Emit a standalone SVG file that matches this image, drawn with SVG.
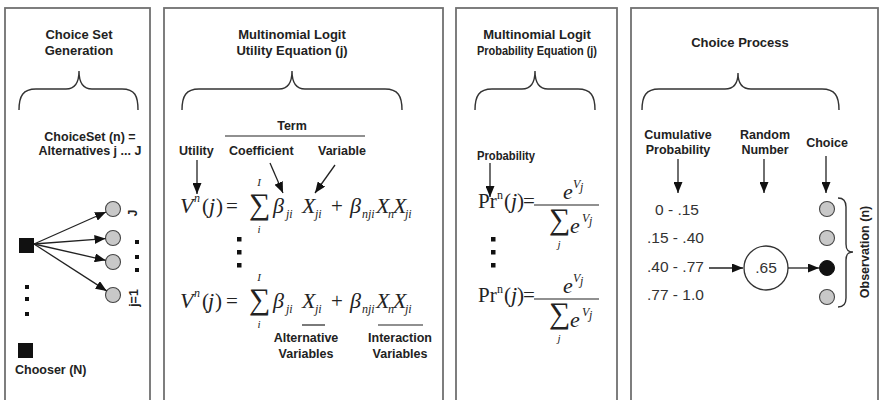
<svg xmlns="http://www.w3.org/2000/svg" width="881" height="400" viewBox="0 0 881 400">
<defs>
<style>
.panel{fill:#fff;stroke:#707070;stroke-width:1.8}
.brace{fill:none;stroke:#333;stroke-width:1.4}
.t{font-family:"Liberation Sans",Arial,sans-serif;font-weight:bold;font-size:12.5px;fill:#222}
.tt{font-family:"Liberation Sans",Arial,sans-serif;font-weight:bold;font-size:13px;fill:#222;text-anchor:middle}
.c{text-anchor:middle}
.num{font-family:"Liberation Sans",Arial,sans-serif;font-size:15.5px;fill:#333}
.mi{font-family:"Liberation Serif","Times New Roman",serif;font-style:italic;font-size:22px;fill:#222}
.m{font-family:"Liberation Serif","Times New Roman",serif;font-size:21px;fill:#222}
.sub{font-family:"Liberation Serif","Times New Roman",serif;font-style:italic;font-size:12px;fill:#222}
.sum{font-family:"Liberation Serif","DejaVu Serif",serif;font-size:30px;fill:#222}
.lim{font-family:"Liberation Serif","Times New Roman",serif;font-style:italic;font-size:11px;fill:#222;text-anchor:middle}
.arr{stroke:#222;stroke-width:1.3;fill:none;marker-end:url(#ah)}
.alt{fill:#c8c8c8;stroke:#444;stroke-width:1.1}
.dot{fill:#111}
.ul{stroke:#222;stroke-width:1.2}
</style>
<marker id="ah" markerUnits="userSpaceOnUse" markerWidth="12" markerHeight="9" refX="11" refY="4.5" orient="auto">
<path d="M0,0 L11,4.5 L0,9 z" fill="#111"/>
</marker>
</defs>
<rect width="881" height="400" fill="#fff"/>

<g id="panel1">
<rect class="panel" x="5" y="8" width="145" height="410"/>
<text class="tt" x="79" y="39">Choice Set</text>
<text class="tt" x="79" y="55">Generation</text>
<path class="brace" d="M19,110 C19,96 23,89 36,89 L66,89 C74,89 79,84 79,71 C79,84 84,89 92,89 L122,89 C135,89 138,96 138,110"/>
<text class="t c" x="90" y="141">ChoiceSet (n) =</text>
<text class="t c" x="90" y="155">Alternatives j ... J</text>
</g>

<g id="chooser1">
<rect x="19" y="238" width="15" height="15" fill="#111"/>
</g>
<g id="chooser-dots">
<rect class="dot" x="25" y="285" width="4" height="4"/>
<rect class="dot" x="25" y="297" width="4" height="4"/>
<rect class="dot" x="25" y="312" width="4" height="4"/>
</g>
<g id="chooserN">
<rect x="18" y="343" width="15" height="15" fill="#111"/>
<text class="t" x="15" y="374">Chooser (N)</text>
</g>
<g id="alt-J"><circle class="alt" cx="113" cy="209" r="7.5"/><text class="t c" transform="translate(137,213) rotate(-90)" x="0" y="0">J</text></g>
<g id="alt-2"><circle class="alt" cx="113" cy="238" r="7.5"/></g>
<g id="alt-3"><circle class="alt" cx="113" cy="262" r="7.5"/></g>
<g id="alt-1"><circle class="alt" cx="113" cy="295" r="7.5"/><text class="t c" transform="translate(138,298) rotate(-90)" x="0" y="0">j=1</text></g>
<g id="alt-dots">
<rect class="dot" x="135" y="240" width="4" height="4"/>
<rect class="dot" x="135" y="255" width="4" height="4"/>
<rect class="dot" x="135" y="268" width="4" height="4"/>
</g>

<g id="panel2">
<rect class="panel" x="164" y="8" width="279" height="410"/>
<text class="tt" x="292" y="39">Multinomial Logit</text>
<text class="tt" x="292" y="55">Utility Equation (j)</text>
<path class="brace" d="M182,110 C182,96 186,89 199,89 L279,89 C287,89 292,84 292,71 C292,84 297,89 305,89 L385,89 C398,89 402,96 402,110"/>
<text class="t c" x="292" y="130">Term</text>
<line class="ul" x1="225" y1="136" x2="365" y2="136"/>
<text class="t" x="179" y="155">Utility</text>
<text class="t" x="229" y="155">Coefficient</text>
<text class="t" x="318" y="155">Variable</text>
</g>

<g id="utility-eq1">
<text class="mi" x="180" y="213">V</text>
<text class="sub" x="194" y="202">n</text>
<text class="m" x="202" y="213">(</text>
<text class="mi" x="209" y="213">j</text>
<text class="m" x="216" y="213">)</text>
<text class="m" x="226" y="213">=</text>
<text class="sum" x="249" y="214">∑</text>
<text class="lim" x="259" y="186">I</text>
<text class="lim" x="259" y="233">i</text>
<text class="mi" x="273" y="213">β</text>
<text class="sub" x="286" y="218">ji</text>
<text class="mi" x="302" y="213">X</text>
<text class="sub" x="315" y="218">ji</text>
<text class="m" x="331" y="213">+</text>
<text class="mi" x="350" y="213">β</text>
<text class="sub" x="362" y="218">nji</text>
<text class="mi" x="376" y="213">X</text>
<text class="sub" x="388" y="218">n</text>
<text class="mi" x="393" y="213">X</text>
<text class="sub" x="405" y="218">ji</text>
</g>
<g id="utility-dots">
<rect class="dot" x="237" y="237" width="4.5" height="4.5"/>
<rect class="dot" x="237" y="250" width="4.5" height="4.5"/>
<rect class="dot" x="237" y="263" width="4.5" height="4.5"/>
</g>
<g id="utility-eqJ" transform="translate(0,95)">
<text class="mi" x="180" y="213">V</text>
<text class="sub" x="194" y="202">n</text>
<text class="m" x="202" y="213">(</text>
<text class="mi" x="208" y="213">j</text>
<text class="m" x="215" y="213">)</text>
<text class="m" x="226" y="213">=</text>
<text class="sum" x="249" y="214">∑</text>
<text class="lim" x="259" y="186">I</text>
<text class="lim" x="259" y="233">i</text>
<text class="mi" x="273" y="213">β</text>
<text class="sub" x="286" y="218">ji</text>
<text class="mi" x="302" y="213">X</text>
<text class="sub" x="315" y="218">ji</text>
<text class="m" x="331" y="213">+</text>
<text class="mi" x="350" y="213">β</text>
<text class="sub" x="362" y="218">nji</text>
<text class="mi" x="376" y="213">X</text>
<text class="sub" x="388" y="218">n</text>
<text class="mi" x="393" y="213">X</text>
<text class="sub" x="405" y="218">ji</text>
</g>
<g id="alt-vars">
<line class="ul" x1="302" y1="325" x2="325" y2="325"/>
<text class="t c" x="306" y="342">Alternative</text>
<text class="t c" x="306" y="358">Variables</text>
</g>
<g id="int-vars">
<line class="ul" x1="378" y1="325" x2="423" y2="325"/>
<text class="t c" x="400" y="342">Interaction</text>
<text class="t c" x="400" y="358">Variables</text>
</g>

<g id="panel3">
<rect class="panel" x="456" y="8" width="161" height="410"/>
<text class="tt" x="537" y="39">Multinomial Logit</text>
<text class="tt" x="537" y="55" textLength="120" lengthAdjust="spacingAndGlyphs">Probability Equation (j)</text>
<path class="brace" d="M475,110 C475,96 479,89 492,89 L522,89 C530,89 535,84 535,71 C535,84 540,89 548,89 L578,89 C591,89 595,96 595,110"/>
<text class="t" x="477" y="160" textLength="58" lengthAdjust="spacingAndGlyphs">Probability</text>
</g>

<g id="prob-eq1">
<text class="m" x="478" y="208" font-size="20">Pr</text>
<text class="sub" x="497" y="199" style="font-style:normal">n</text>
<text class="m" x="504" y="208" font-size="20">(</text>
<text class="mi" x="511" y="208" font-size="20">j</text>
<text class="m" x="517" y="208" font-size="20">)</text>
<text class="m" x="523" y="208" font-size="20">=</text>
<line class="ul" x1="534" y1="205" x2="599" y2="205" stroke-width="1.1"/>
<text class="mi" x="563" y="199" font-size="20">e</text>
<text class="sub" x="573" y="188" font-size="11">V</text>
<text class="sub" x="580" y="191" font-size="8">j</text>
<text class="sum" x="549" y="229" font-size="24">∑</text>
<text class="lim" x="559" y="248" font-size="10">j</text>
<text class="mi" x="570" y="233" font-size="20">e</text>
<text class="sub" x="582" y="222" font-size="11">V</text>
<text class="sub" x="589" y="225" font-size="8">j</text>
</g>
<g id="prob-dots">
<rect class="dot" x="491" y="237" width="4.5" height="4.5"/>
<rect class="dot" x="491" y="250" width="4.5" height="4.5"/>
<rect class="dot" x="491" y="263" width="4.5" height="4.5"/>
</g>
<g id="prob-eqJ" transform="translate(0,94)">
<text class="m" x="478" y="208" font-size="20">Pr</text>
<text class="sub" x="497" y="199" style="font-style:normal">n</text>
<text class="m" x="504" y="208" font-size="20">(</text>
<text class="mi" x="511" y="208" font-size="20">j</text>
<text class="m" x="517" y="208" font-size="20">)</text>
<text class="m" x="523" y="208" font-size="20">=</text>
<line class="ul" x1="534" y1="205" x2="599" y2="205" stroke-width="1.1"/>
<text class="mi" x="563" y="199" font-size="20">e</text>
<text class="sub" x="573" y="188" font-size="11">V</text>
<text class="sub" x="580" y="191" font-size="8">j</text>
<text class="sum" x="549" y="229" font-size="24">∑</text>
<text class="lim" x="559" y="248" font-size="10">j</text>
<text class="mi" x="570" y="233" font-size="20">e</text>
<text class="sub" x="582" y="222" font-size="11">V</text>
<text class="sub" x="589" y="225" font-size="8">j</text>
</g>

<g id="panel4">
<rect class="panel" x="631" y="8" width="247" height="410"/>
<text class="tt" x="740" y="47">Choice Process</text>
<path class="brace" d="M642,110 C642,96 646,89 659,89 L725,89 C733,89 738,84 738,73 C738,84 743,89 751,89 L822,89 C835,89 839,96 839,110"/>
<text class="t c" x="678" y="139">Cumulative</text>
<text class="t c" x="678" y="154">Probability</text>
<text class="t c" x="765" y="139">Random</text>
<text class="t c" x="765" y="154">Number</text>
<text class="t c" x="827" y="147">Choice</text>
</g>
<g id="ranges">
<text class="num" x="655" y="215">0 - .15</text>
<text class="num" x="647" y="243">.15 - .40</text>
<text class="num" x="647" y="272">.40 - .77</text>
<text class="num" x="647" y="300">.77 - 1.0</text>
</g>
<g id="random">
<circle cx="766" cy="268" r="22" fill="#fff" stroke="#333" stroke-width="1.3"/>
<text class="num c" x="766" y="273" font-size="15">.65</text>
</g>
<g id="choices">
<circle class="alt" cx="827" cy="209" r="7.5"/>
<circle class="alt" cx="827" cy="238" r="7.5"/>
<circle cx="827" cy="268" r="7.5" fill="#111" stroke="#111"/>
<circle class="alt" cx="827" cy="297" r="7.5"/>
</g>
<g id="observation">
<path class="brace" d="M838,198 C844,198 846,201 846,207 L846,244 C846,250 848,252 853,252 C848,252 846,254 846,260 L846,298 C846,304 844,307 838,307"/>
<text class="t c" transform="translate(869,252) rotate(-90)" x="0" y="0">Observation (n)</text>
</g>

<g id="connectors">
<line class="arr" x1="34" y1="244" x2="106" y2="212"/>
<line class="arr" x1="34" y1="244" x2="105.5" y2="238.6"/>
<line class="arr" x1="34" y1="244" x2="105.7" y2="260.3"/>
<line class="arr" x1="34" y1="244" x2="106.7" y2="290.9"/>
<line class="arr" x1="197" y1="160" x2="197" y2="194"/>
<line class="arr" x1="270" y1="163" x2="283" y2="193"/>
<line class="arr" x1="335" y1="165" x2="315" y2="193"/>
<line class="arr" x1="490" y1="163" x2="490" y2="197"/>
<line class="arr" x1="678" y1="159" x2="678" y2="193"/>
<line class="arr" x1="764" y1="159" x2="764" y2="193"/>
<line class="arr" x1="826" y1="156" x2="826" y2="193"/>
<line class="arr" x1="709" y1="268" x2="743" y2="268"/>
<line class="arr" x1="788" y1="268" x2="819" y2="268"/>
</g>
</svg>
